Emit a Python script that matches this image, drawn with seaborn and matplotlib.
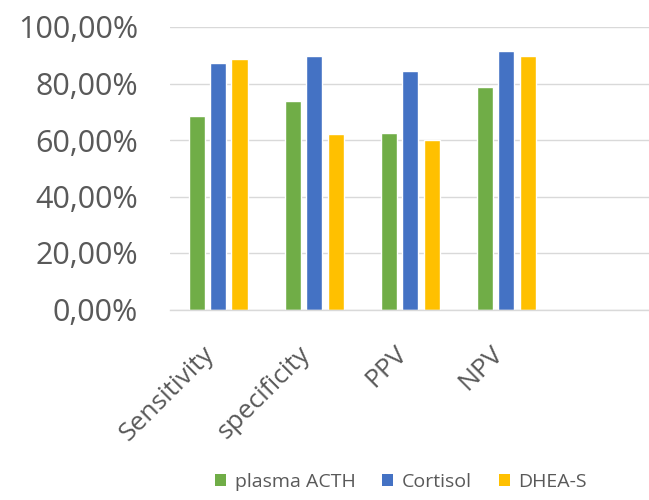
import matplotlib
matplotlib.use("Agg")
import matplotlib.pyplot as plt
from matplotlib.ticker import FuncFormatter, MultipleLocator
from matplotlib.patches import Patch
from matplotlib.transforms import ScaledTranslation
import seaborn as sns
import pandas as pd

# Diagnostic performance of each marker (%)
categories = ["Sensitivity", "specificity", "PPV", "NPV"]
markers = ["plasma ACTH", "Cortisol", "DHEA-S"]
plasma_acth = [68.4, 73.9, 62.5, 78.7]
cortisol = [87.2, 89.9, 84.5, 91.6]
dhea_s = [88.6, 62.3, 60.0, 89.7]
colors = ["#70AD47", "#4472C4", "#FFC000"]

rows = []
for name, vals in zip(markers, [plasma_acth, cortisol, dhea_s]):
    for cat, v in zip(categories, vals):
        rows.append({"category": cat, "marker": name, "value": v})
df = pd.DataFrame(rows)

sns.set_theme(style="white")
plt.rcParams["font.family"] = ["Open Sans", "DejaVu Sans"]

fig = plt.figure(figsize=(6.49, 5.0), dpi=100)
ax = fig.add_axes([0.262, 0.381, 0.74, 0.565])

# an empty trailing slot keeps room on the right of the plot area
order = categories + [" "]
sns.barplot(data=df, x="category", y="value", hue="marker", order=order,
            hue_order=markers, palette=colors, width=0.67, gap=0.25,
            saturation=1, ax=ax, legend=False)

ax.set_ylim(0, 100)
ax.set_xlim(-0.5, 4.5)
ax.yaxis.set_major_locator(MultipleLocator(20))
ax.yaxis.set_major_formatter(FuncFormatter(lambda v, p: f"{v:.2f}".replace(".", ",") + "%"))
ax.grid(axis="y", color="#D9D9D9", linewidth=1.0)
ax.set_axisbelow(True)
for s in ["top", "right", "left"]:
    ax.spines[s].set_visible(False)
ax.spines["bottom"].set_color("#D9D9D9")
ax.spines["bottom"].set_linewidth(1.0)
ax.set_xlabel("")
ax.set_ylabel("")
ax.tick_params(axis="y", length=0, pad=23, labelsize=22, labelcolor="#595959")
ax.tick_params(axis="x", length=0, pad=23, labelsize=19, labelcolor="#595959")
ax.set_xticks(range(len(order)))
ax.set_xticklabels(order, rotation=45, ha="right", rotation_mode="anchor")
shift = ScaledTranslation(-16 / 100, 0, fig.dpi_scale_trans)
for lbl in ax.get_xticklabels():
    lbl.set_transform(lbl.get_transform() + shift)

handles = [Patch(facecolor=c, edgecolor="none") for c in colors]
fig.legend(handles, markers, loc="center", bbox_to_anchor=(0.618, 0.036), ncol=3,
           frameon=False, fontsize=14, labelcolor="#595959",
           handlelength=0.55, handleheight=0.55, handletextpad=0.45, columnspacing=1.4)

fig.savefig("out.png", dpi=100)
